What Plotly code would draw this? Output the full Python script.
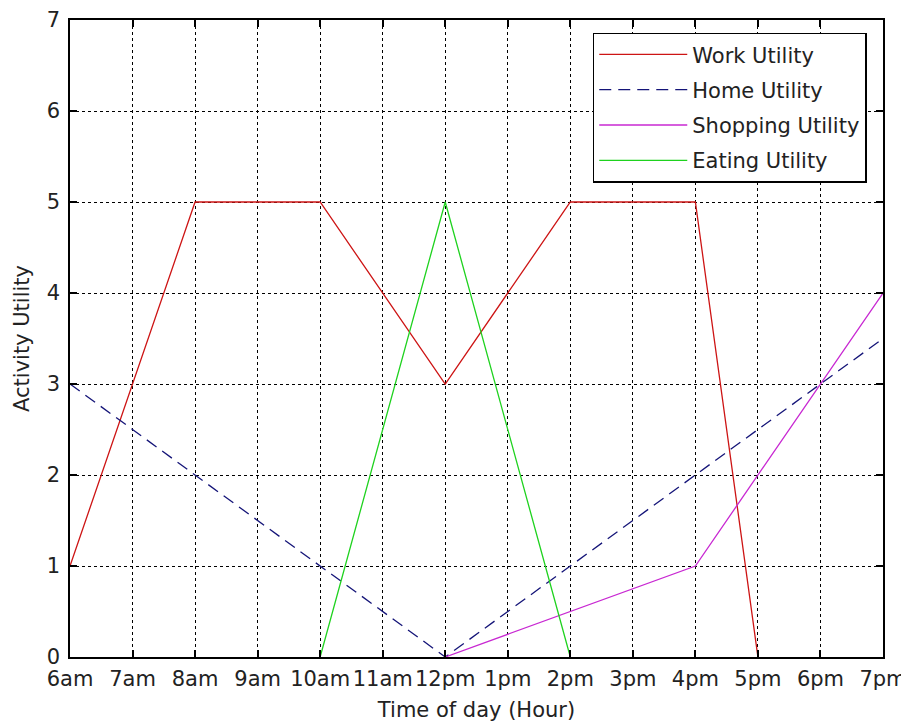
import plotly.graph_objects as go

tick_vals = [6, 7, 8, 9, 10, 11, 12, 13, 14, 15, 16, 17, 18, 19]
tick_labels = ["6am", "7am", "8am", "9am", "10am", "11am", "12pm", "1pm",
               "2pm", "3pm", "4pm", "5pm", "6pm", "7pm"]

work_x = [6, 8, 10, 12, 14, 16, 17]
work_y = [1, 5, 5, 3, 5, 5, 0]
home_x = [6, 12, 19]
home_y = [3, 0, 3.5]
shop_x = [12, 16, 19]
shop_y = [0, 1, 4]
eat_x = [10, 12, 14]
eat_y = [0, 5, 0]

font = "DejaVu Sans, sans-serif"
txt = "#222"

fig = go.Figure()
fig.add_trace(go.Scatter(x=work_x, y=work_y, mode="lines", name="Work Utility",
                         legendgroup="a",
                         line=dict(color="rgb(205,20,20)", width=1.3)))
fig.add_trace(go.Scatter(x=home_x, y=home_y, mode="lines", name="Home Utility",
                         legendgroup="b",
                         line=dict(color="rgb(20,20,120)", width=1.3, dash="12px,7px")))
fig.add_trace(go.Scatter(x=shop_x, y=shop_y, mode="lines", name="Shopping Utility",
                         legendgroup="c",
                         line=dict(color="rgb(200,40,210)", width=1.3)))
fig.add_trace(go.Scatter(x=eat_x, y=eat_y, mode="lines", name="Eating Utility",
                         legendgroup="d",
                         line=dict(color="rgb(30,210,30)", width=1.3)))

axis_common = dict(
    showline=True, linecolor="black", linewidth=1.5, mirror="ticks",
    ticks="inside", ticklen=7, tickcolor="black", tickwidth=1.5,
    showgrid=True, gridcolor="black", gridwidth=1, griddash="dot",
    zeroline=False, tickfont=dict(family=font, size=21, color=txt),
    automargin=False,
)

fig.update_layout(
    width=901, height=717,
    paper_bgcolor="white", plot_bgcolor="white",
    margin=dict(l=62, r=26, t=12, b=68, autoexpand=False),
    font=dict(family=font, size=21, color=txt),
    xaxis=dict(range=[6, 19], tickmode="array", tickvals=tick_vals,
               ticktext=tick_labels, ticklabelstandoff=2,
               title=dict(text="Time of day (Hour)",
                          font=dict(family=font, size=21, color=txt), standoff=12),
               **axis_common),
    yaxis=dict(range=[0, 7], tickmode="array", tickvals=list(range(8)),
               ticklabelstandoff=4,
               title=dict(text="Activity Utility",
                          font=dict(family=font, size=21, color=txt), standoff=11),
               **axis_common),
    legend=dict(x=0.643, y=0.98, xanchor="left", yanchor="top",
                bgcolor="white", bordercolor="black", borderwidth=1.5,
                font=dict(family=font, size=21, color=txt),
                itemwidth=88, tracegroupgap=5),
    showlegend=True,
)

fig.write_html("out.html")
